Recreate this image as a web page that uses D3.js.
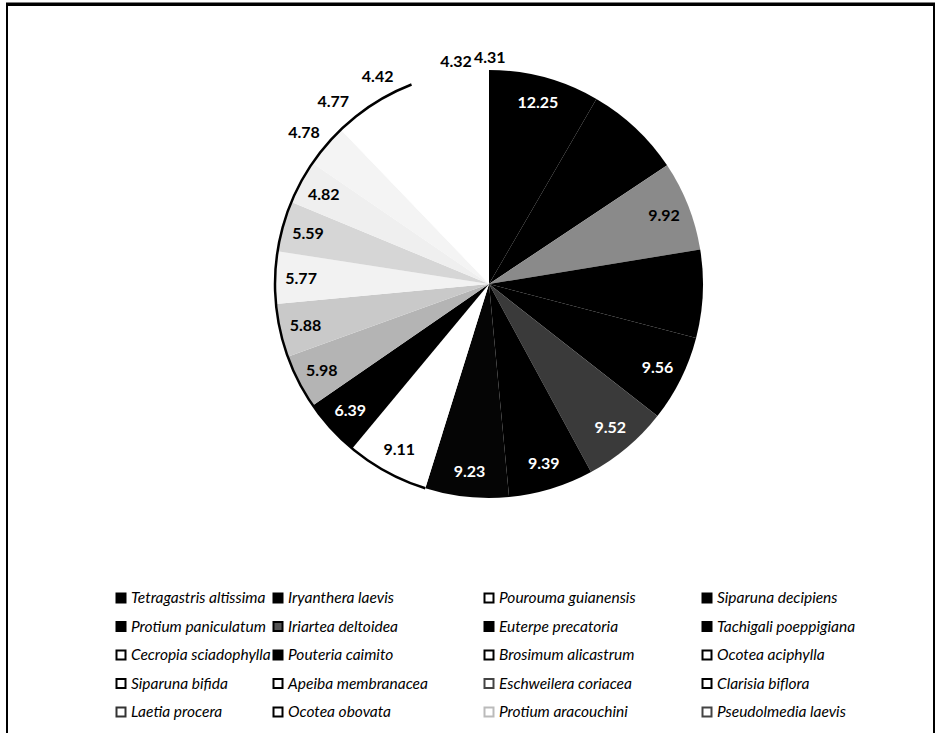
<!DOCTYPE html>
<html>
<head>
<meta charset="utf-8">
<script src="https://cdn.jsdelivr.net/npm/d3@7"></script>
<style>
  body { margin: 0; background: #fff; }
  text { font-family: Lato, "Open Sans", sans-serif; }
</style>
</head>
<body>
<script>
const width = 941, height = 733

// species, in slice order (clockwise from 12 o'clock) and legend order
const species = [
  "Tetragastris altissima", "Iryanthera laevis", "Pourouma guianensis", "Siparuna decipiens",
  "Protium paniculatum", "Iriartea deltoidea", "Euterpe precatoria", "Tachigali poeppigiana",
  "Cecropia sciadophylla", "Pouteria caimito", "Brosimum alicastrum", "Ocotea aciphylla",
  "Siparuna bifida", "Apeiba membranacea", "Eschweilera coriacea", "Clarisia biflora",
  "Laetia procera", "Ocotea obovata", "Protium aracouchini", "Pseudolmedia laevis"
]

// value of each slice
const values = [12.25, 10.65, 9.92, 9.70, 9.56, 9.52, 9.39, 9.23, 9.11, 6.39,
                5.98, 5.88, 5.77, 5.59, 4.82, 4.78, 4.77, 4.42, 4.32, 4.31]

// grey levels of the scanned slices
const sliceColors = [
  "#000", "#000", "#8a8a8a", "#000", "#000", "#3a3a3a", "#000", "#050505",
  "#fff", "#000", "#b4b4b4", "#c9c9c9", "#f2f2f2", "#d6d6d6", "#efefef", "#f4f4f4",
  "#fff", "#fff", "#fff", "#fff"
]
const labelColors = [
  "#fff", "#000", "#000", "#000", "#fff", "#fff", "#fff", "#fff",
  "#000", "#fff", "#000", "#000", "#000", "#000", "#000", "#000",
  "#000", "#000", "#000", "#000"
]
// legend swatches: solid or outlined
const swatchFill = [
  "#000", "#000", "#fff", "#000", "#000", "#555", "#000", "#000",
  "#fff", "#000", "#fff", "#fff", "#fff", "#fff", "#fff", "#fff",
  "#fff", "#fff", "#fff", "#fff"
]
const swatchStroke = [
  "#000", "#000", "#000", "#000", "#000", "#000", "#000", "#000",
  "#000", "#000", "#000", "#000", "#000", "#000", "#444", "#000",
  "#333", "#000", "#bbb", "#444"
]

const svg = d3.select("body").append("svg")
    .attr("width", width)
    .attr("height", height)

// chart frame
svg.append("rect")
    .attr("x", 7).attr("y", 5)
    .attr("width", 927).attr("height", 760)
    .attr("fill", "none")
    .attr("stroke", "#000")
    .attr("stroke-width", 2)
svg.append("line")
    .attr("x1", 6).attr("x2", 935)
    .attr("y1", 4).attr("y2", 4)
    .attr("stroke", "#000")
    .attr("stroke-width", 3)

const cx = 489, cy = 284, radius = 214

const pie = d3.pie().sort(null).value(d => d)
const arcs = pie(values)

const g = svg.append("g").attr("transform", "translate(" + cx + "," + cy + ")")

const arc = d3.arc().innerRadius(0).outerRadius(radius)

g.selectAll(".slice").data(arcs)
  .enter()
  .append("path")
    .attr("class", "slice")
    .attr("d", arc)
    .attr("fill", (d, i) => sliceColors[i])

// dark rim along the left side of the pie (light slices)
const rim = d3.arc().innerRadius(radius).outerRadius(radius)
g.append("path")
    .attr("d", rim({startAngle: arcs[8].startAngle, endAngle: arcs[17].endAngle}))
    .attr("fill", "none")
    .attr("stroke", "#000")
    .attr("stroke-width", 2.5)

// value labels: inside end for big slices, outside for the smallest ones
const inArc = d3.arc().innerRadius(188).outerRadius(188)

// outside labels get pushed apart near the top, like excel does
// [angle shift in degrees, radius] for slices 16..20
const outNudge = [[-1, 239], [-2.5, 240], [-1.5, 236], [7.5, 225], [5.5, 227]]

function labelPos(d, i) {
  if (i < 15) return inArc.centroid(d)
  const [shift, r] = outNudge[i - 15]
  const a = (d.startAngle + d.endAngle) / 2 + shift * Math.PI / 180
  return [r * Math.sin(a), -r * Math.cos(a)]
}

g.selectAll(".lbl").data(arcs)
  .enter()
  .append("text")
    .attr("class", "lbl")
    .attr("transform", (d, i) => "translate(" + labelPos(d, i) + ")")
    .attr("text-anchor", "middle")
    .attr("dy", "0.35em")
    .attr("font-size", "16px")
    .attr("font-weight", "bold")
    .attr("fill", (d, i) => labelColors[i])
    .text(d => d.data.toFixed(2))

// legend, 4 columns, row-major
const colX = [121, 278, 489, 707]
const rowY0 = 598, rowStep = 28.5

const leg = svg.selectAll(".leg").data(species)
  .enter()
  .append("g")
    .attr("class", "leg")
    .attr("transform", (d, i) => "translate(" + colX[i % 4] + "," + (rowY0 + Math.floor(i / 4) * rowStep) + ")")

leg.append("rect")
    .attr("x", -4.5).attr("y", -4.5)
    .attr("width", 9).attr("height", 9)
    .attr("fill", (d, i) => swatchFill[i])
    .attr("stroke", (d, i) => swatchStroke[i])
    .attr("stroke-width", 2)

leg.append("text")
    .attr("x", 10)
    .attr("dy", "0.35em")
    .attr("font-size", "15.5px")
    .attr("font-style", "italic")
    .text(d => d)
</script>
</body>
</html>
